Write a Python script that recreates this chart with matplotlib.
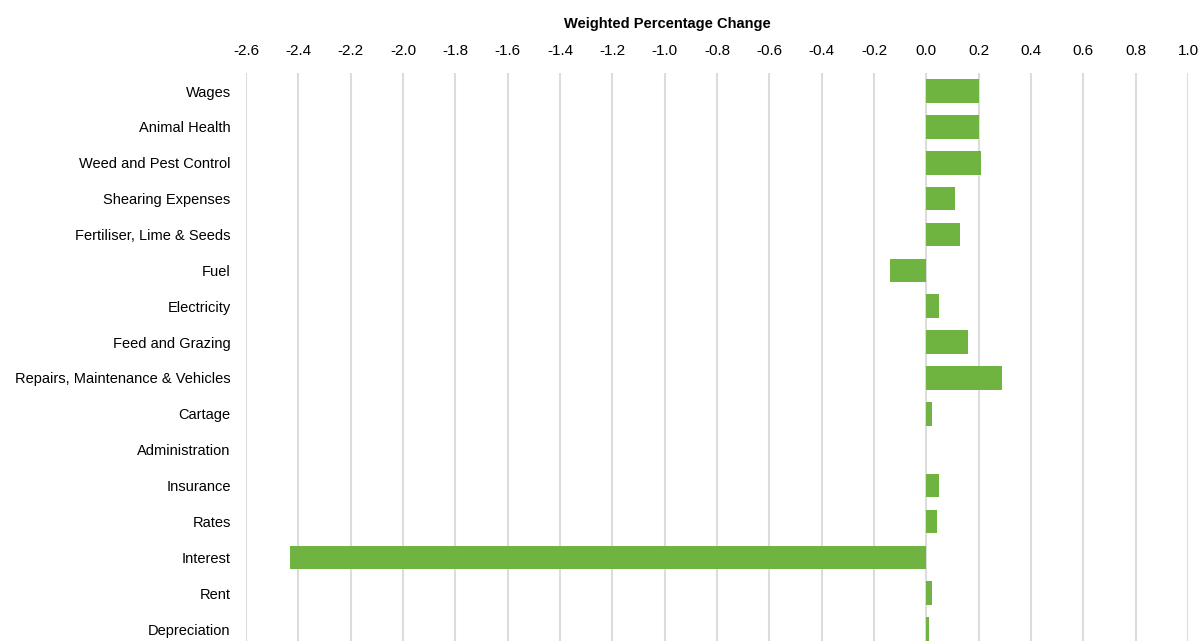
"""Weighted percentage change by cost category, horizontal bars with the
value axis along the top (Excel-style layout)."""

import matplotlib

matplotlib.use("Agg")
import matplotlib.pyplot as plt

categories = [
    "Wages",
    "Animal Health",
    "Weed and Pest Control",
    "Shearing Expenses",
    "Fertiliser, Lime & Seeds",
    "Fuel",
    "Electricity",
    "Feed and Grazing",
    "Repairs, Maintenance & Vehicles",
    "Cartage",
    "Administration",
    "Insurance",
    "Rates",
    "Interest",
    "Rent",
    "Depreciation",
]
weighted_change = [
    0.20, 0.20, 0.21, 0.11, 0.13, -0.14, 0.05, 0.16,
    0.29, 0.02, 0.0, 0.05, 0.04, -2.43, 0.02, 0.01,
]
x_ticks = [round(-2.6 + 0.2 * i, 1) for i in range(19)]

BAR_COLOR = "#6FB340"
GRID_COLOR = "#DCDCDC"


def main() -> None:
    plt.rcParams["font.family"] = ["Liberation Sans", "DejaVu Sans"]

    fig = plt.figure(figsize=(12.03, 6.41), dpi=100)
    ax = fig.add_axes([0.2045, -0.0094, 0.783, 0.8954])

    y = list(range(len(categories)))
    ax.barh(y, weighted_change, height=0.66, color=BAR_COLOR, zorder=3)

    ax.set_xlim(-2.6, 1.0)
    ax.set_ylim(len(categories) - 0.5, -0.5)
    ax.set_xticks(x_ticks)
    ax.set_xticklabels([f"{t:.1f}" for t in x_ticks], fontsize=11)
    ax.xaxis.tick_top()
    ax.tick_params(axis="x", length=0, pad=11)
    ax.set_yticks(y)
    ax.set_yticklabels(categories, fontsize=10.5)
    ax.tick_params(axis="y", length=0, pad=11)

    ax.grid(axis="x", color=GRID_COLOR, linewidth=1.5, zorder=0)
    for spine in ax.spines.values():
        spine.set_visible(False)

    fig.text(0.555, 1 - 24 / 641, "Weighted Percentage Change",
             ha="center", va="center", fontsize=10.5, fontweight="bold")

    fig.savefig("out.png", dpi=100)


if __name__ == "__main__":
    main()
